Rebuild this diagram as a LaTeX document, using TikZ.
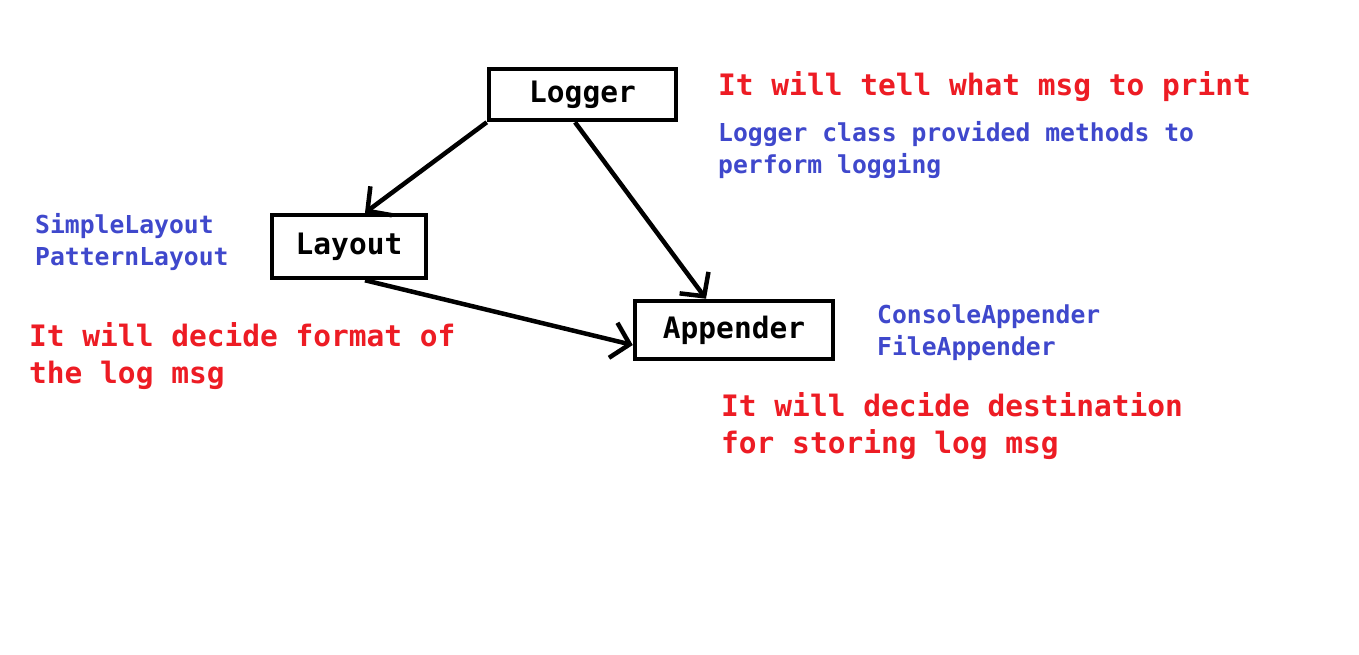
\documentclass[tikz,border=0pt]{standalone}
\usepackage{fontspec}
\setmainfont{DejaVu Sans Mono}
\usetikzlibrary{arrows.meta}
\definecolor{notered}{RGB}{237,28,36}
\definecolor{noteblue}{RGB}{63,72,204}

\begin{document}
\begin{tikzpicture}[
    x=1pt, y=-1pt,
    block/.style={draw, line width=4.5pt, inner sep=0pt, font=\fontsize{29.5}{35}\selectfont\bfseries},
    redtext/.style={anchor=base west, inner sep=0pt, align=left, text=notered, font=\fontsize{29.5}{37}\selectfont\bfseries},
    bluetext/.style={anchor=base west, inner sep=0pt, align=left, text=noteblue, font=\fontsize{24.7}{32}\selectfont\bfseries},
    arrow/.style={-{Straight Barb[length=17pt,width=36pt]}, line width=4.5pt}
  ]
    \useasboundingbox[fill=white] (0,0) rectangle (1359,654);
    \node[block, minimum width=187pt, minimum height=51pt] (logger) at (582.5,94.5) {Logger};
    \node[block, minimum width=154pt, minimum height=63pt] (layout) at (349,246.5) {Layout};
    \node[block, minimum width=198pt, minimum height=58pt] (appender) at (734,330) {Appender};
    % multi-line notes sit on the baseline of their last line
    \node[redtext] (tellnote) at (718,95) {It will tell what msg to print};
    \node[bluetext] (loggernote) at (718,173) {Logger class provided methods to\\perform logging};
    \node[bluetext] (layoutkinds) at (35,265) {SimpleLayout\\PatternLayout};
    \node[redtext] (formatnote) at (29,383) {It will decide format of\\the log msg};
    \node[bluetext] (appenderkinds) at (877,355) {ConsoleAppender\\FileAppender};
    \node[redtext] (destnote) at (721,453) {It will decide destination\\for storing log msg};
    \draw[arrow] (logger.south west) -- ([xshift=16pt]layout.north);
    \draw[arrow] ([xshift=-7.5pt]logger.south) -- ([xshift=-28pt]appender.north);
    \draw[arrow] ([xshift=16pt]layout.south) -- ([yshift=-15pt]appender.west);
  \end{tikzpicture}
\end{document}
